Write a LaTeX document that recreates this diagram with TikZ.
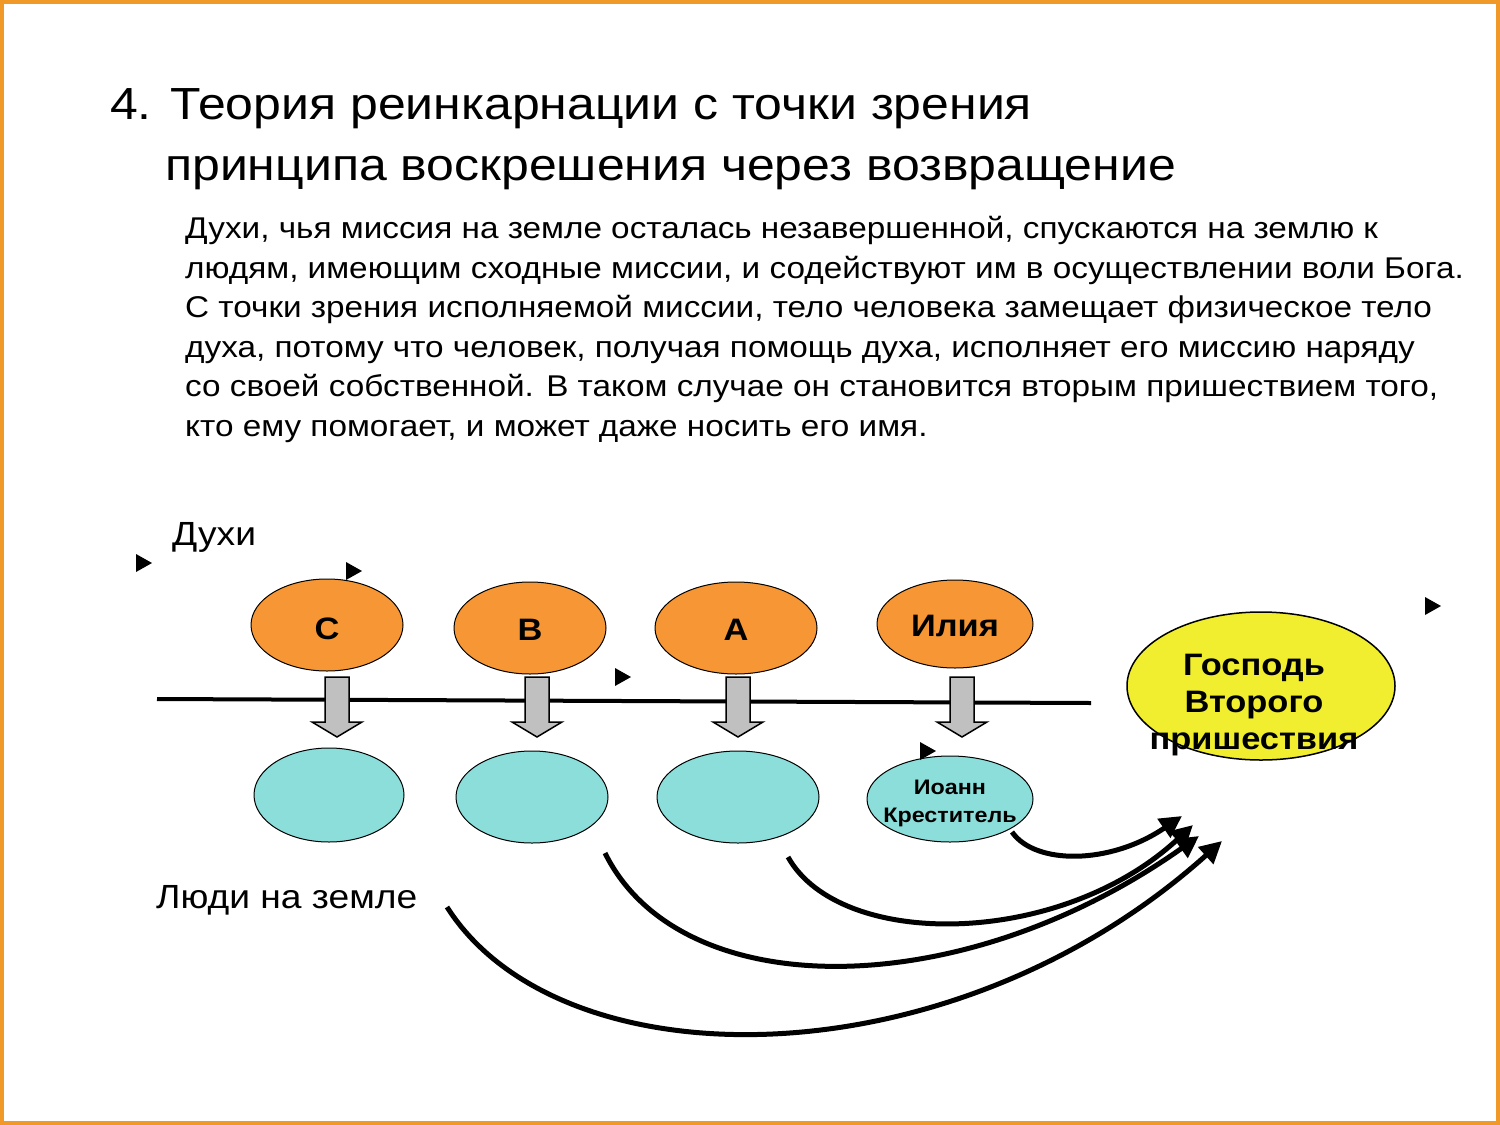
\documentclass[tikz,border=0pt]{standalone}
\usepackage{fontspec}
\setmainfont[FakeStretch=1.11]{Liberation Sans}
\usetikzlibrary{arrows.meta,shapes.geometric}
\definecolor{framecol}{RGB}{240,152,40}
\definecolor{spiritcol}{RGB}{246,150,52}
\definecolor{personcol}{RGB}{140,222,218}
\definecolor{lordcol}{RGB}{240,238,46}
\definecolor{arrowgrey}{RGB}{192,192,192}
\tikzset{
  spirit/.style={ellipse, draw=black, line width=1pt, fill=spiritcol, inner sep=0pt},
  person/.style={ellipse, draw=black, line width=1pt, fill=personcol, inner sep=0pt},
  lord/.style={ellipse, draw=black, line width=1.5pt, fill=lordcol, inner sep=0pt, minimum width=268, minimum height=148},
  bigtxt/.style={font=\fontsize{31}{38}\selectfont\bfseries},
  titletxt/.style={anchor=base west, inner sep=0pt, font=\fontsize{45}{54}\selectfont},
  bodytxt/.style={anchor=base west, inner sep=0pt, font=\fontsize{30}{36}\selectfont},
  labtxt/.style={anchor=base west, inner sep=0pt, font=\fontsize{33.5}{40}\selectfont},
  path arrow/.style={line width=5pt, -{Triangle[length=22pt,width=22pt]}},
  play/.style={fill=black},
  blockarrow/.style={fill=arrowgrey, draw=black, line width=1.5pt, line join=miter}
}
\begin{document}
\begin{tikzpicture}[x=1pt,y=-1pt]
\useasboundingbox (0,0) rectangle (1500,1125);
\draw[framecol, line width=4pt, fill=white] (2,2) rectangle (1498,1123);

% title
\node[titletxt] (t1) at (110,119) {4. Теория реинкарнации с точки зрения};
\node[titletxt] (t2) at (165,180) {принципа воскрешения через возвращение};

% body
\node[bodytxt] (p1) at (185,238) {Духи, чья миссия на земле осталась незавершенной, спускаются на землю к};
\node[bodytxt] (p2) at (185,278) {людям, имеющим сходные миссии, и содействуют им в осуществлении воли Бога.};
\node[bodytxt] (p3) at (185,317) {С точки зрения исполняемой миссии, тело человека замещает физическое тело};
\node[bodytxt] (p4) at (185,357) {духа, потому что человек, получая помощь духа, исполняет его миссию наряду};
\node[bodytxt] (p5) at (185,396) {со своей собственной. В таком случае он становится вторым пришествием того,};
\node[bodytxt] (p6) at (185,436) {кто ему помогает, и может даже носить его имя.};

% labels
\node[labtxt] (spiritslab) at (172,545) {Духи};
\node[labtxt] (peoplelab) at (156,908) {Люди на земле};

% horizontal line
\coordinate (lineL) at (157,699);
\coordinate (lineR) at (1091,703);
\draw[line width=4pt] (lineL) -- (lineR);

% spirits
\node[spirit, minimum width=152, minimum height=92] (C) at (327,625) {};
\node[spirit, minimum width=152, minimum height=92] (B) at (530,628) {};
\node[spirit, minimum width=162, minimum height=92] (A) at (736,628) {};
\node[spirit, minimum width=156, minimum height=88] (E) at (955,624) {};
\node[bigtxt] (Ct) at ([yshift=-4]C.center) {С};
\node[bigtxt] (Bt) at ([yshift=-2]B.center) {В};
\node[bigtxt] (At) at ([yshift=-2]A.center) {А};
\node[bigtxt] (Et) at ([yshift=-2]E.center) {Илия};

% people
\node[person, minimum width=150, minimum height=94] (P1) at (329,795) {};
\node[person, minimum width=152, minimum height=92] (P2) at (532,797) {};
\node[person, minimum width=162, minimum height=92] (P3) at (738,797) {};
\node[person, minimum width=166, minimum height=86] (P4) at (950,799) {};
\node[font=\fontsize{21}{28}\selectfont\bfseries, align=center, inner sep=0pt] (P4t) at (950,803) {Иоанн\\Креститель};

% lord
\node[lord] (L) at (1261,686) {};
\node[font=\fontsize{31}{37}\selectfont\bfseries, align=center, inner sep=0pt] (Lt) at (1254,705) {Господь\\Второго\\пришествия};

% grey block arrows
\foreach \x/\n in {337/1,537/2,738/3,962/4}{
  \draw[blockarrow] (\x-12,677) -- (\x+12,677) -- (\x+12,722) -- (\x+25,722) -- (\x,737) -- (\x-25,722) -- (\x-12,722) -- cycle;
}

% small play triangles
\foreach \px/\py in {143/563, 353/571, 622/677, 927/751, 1432/606}{
  \fill[play] (\px-7,\py-9) -- (\px+9,\py) -- (\px-7,\py+9) -- cycle;
}

% curved arrows
\coordinate (s1) at (1012,832);
\coordinate (s2) at (788,857);
\coordinate (s3) at (605,853);
\coordinate (s4) at (447,907);
\coordinate (e1) at (1182,816);
\coordinate (e2) at (1193,825);
\coordinate (e3) at (1199,836);
\coordinate (e4) at (1222,841);
\draw[path arrow] (s1) .. controls (1035,865) and (1110,865) .. (e1);
\draw[path arrow] (s2) .. controls (840,950) and (1060,948) .. (e2);
\draw[path arrow] (s3) .. controls (680,1005) and (960,1005) .. (e3);
\draw[path arrow] (s4) .. controls (560,1085) and (950,1085) .. (e4);
\end{tikzpicture}
\end{document}
